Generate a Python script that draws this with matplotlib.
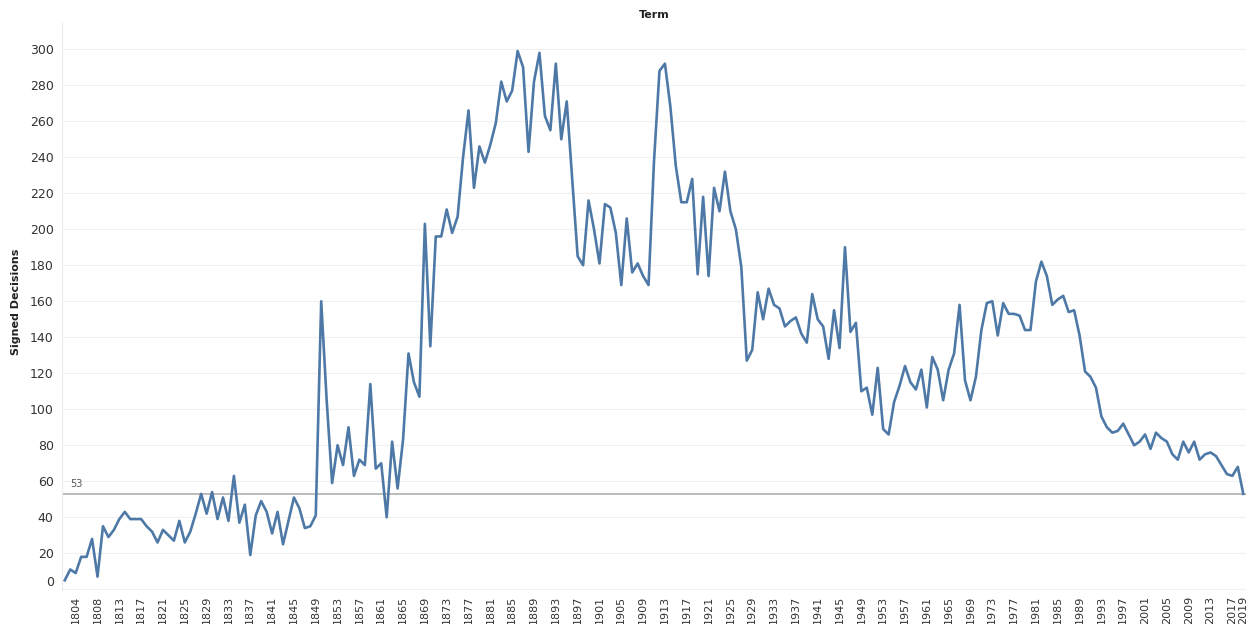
import matplotlib
matplotlib.use('Agg')
import matplotlib.pyplot as plt

# Supreme Court terms (no term held in 1802 or 1811)
terms = [1801, 1803] + list(range(1804, 1811)) + list(range(1812, 2020))

# Signed decisions per term
signed = [
    5, 11, 9, 18, 18, 28, 7, 35, 29, 33,
    39, 43, 39, 39, 39, 35, 32, 26, 33, 30,
    27, 38, 26, 32, 42, 53, 42, 54, 39, 51,
    38, 63, 37, 47, 19, 41, 49, 43, 31, 43,
    25, 38, 51, 45, 34, 35, 41, 160, 105, 59,
    80, 69, 90, 63, 72, 69, 114, 67, 70, 40,
    82, 56, 83, 131, 115, 107, 203, 135, 196, 196,
    211, 198, 207, 240, 266, 223, 246, 237, 247, 259,
    282, 271, 277, 299, 290, 243, 282, 298, 263, 255,
    292, 250, 271, 228, 185, 180, 216, 200, 181, 214,
    212, 198, 169, 206, 176, 181, 174, 169, 238, 288,
    292, 268, 235, 215, 215, 228, 175, 218, 174, 223,
    210, 232, 210, 200, 179, 127, 133, 165, 150, 167,
    158, 156, 146, 149, 151, 142, 137, 164, 150, 146,
    128, 155, 134, 190, 143, 148, 110, 112, 97, 123,
    89, 86, 104, 113, 124, 115, 111, 122, 101, 129,
    122, 105, 122, 131, 158, 116, 105, 118, 144, 159,
    160, 141, 159, 153, 153, 152, 144, 144, 171, 182,
    174, 158, 161, 163, 154, 155, 141, 121, 118, 112,
    96, 90, 87, 88, 92, 86, 80, 82, 86, 78,
    87, 84, 82, 75, 72, 82, 76, 82, 72, 75,
    76, 74, 69, 64, 63, 68, 53,
]

ref_value = 53

fig = plt.figure(figsize=(12.51, 6.24), dpi=100)
ax = fig.add_axes([0.0496, 0.0545, 0.9464, 0.9087])

x = list(range(len(terms)))
ax.plot(x, signed, color='#4e79a7', lw=1.9, solid_joinstyle='round', zorder=3)

# reference line
ax.axhline(ref_value, color='#b5b5b5', lw=1.3, zorder=2)
ax.text(1, ref_value + 2.5, str(ref_value), fontsize=7, color='#555555',
        ha='left', va='bottom')

ax.set_xlim(-0.5, len(terms) - 0.5)
ax.set_ylim(-0.4, 314.6)

yt = list(range(0, 301, 20))
ax.set_yticks(yt)
ax.set_yticklabels([str(v) for v in yt])
for v in yt:
    ax.axhline(v, color='#f0f0f0', lw=0.8, zorder=1)

tick_pos = list(range(2, len(terms), 4)) + [len(terms) - 1]
ax.set_xticks(tick_pos)
ax.set_xticklabels([str(terms[i]) for i in tick_pos], rotation=90)

ax.tick_params(axis='x', length=0, pad=4, labelsize=8, labelcolor='#333333')
ax.tick_params(axis='y', length=0, pad=6, labelsize=9, labelcolor='#333333')
# keep the bottom label inside the pane like Tableau does
ax.get_yticklabels()[0].set_verticalalignment('bottom')

for s in ['top', 'right', 'bottom']:
    ax.spines[s].set_visible(False)
ax.spines['left'].set_color('#ececec')
ax.spines['left'].set_linewidth(0.8)

fig.text(0.523, 1 - 15 / 624, 'Term', ha='center', va='center',
         fontsize=8, fontweight='bold', color='#222222')
fig.text(16 / 1251, 1 - 302 / 624, 'Signed Decisions', ha='center', va='center',
         rotation=90, fontsize=8, fontweight='bold', color='#222222')

fig.savefig('out.png', dpi=100)
